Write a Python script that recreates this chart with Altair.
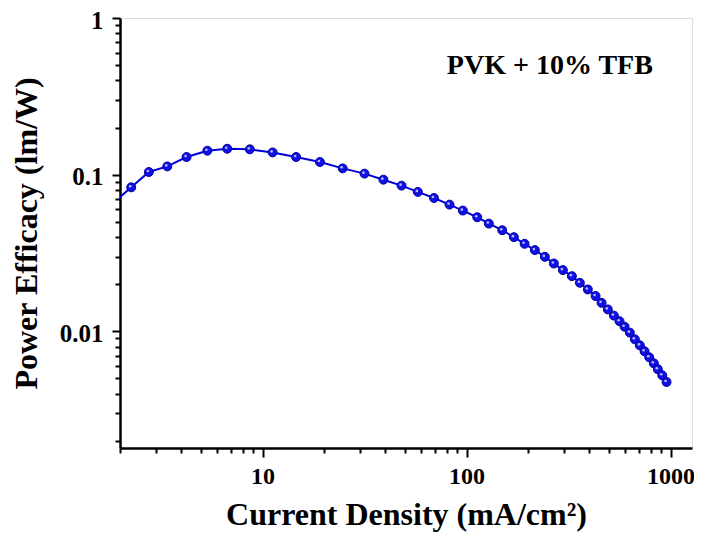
import altair as alt
import pandas as pd

# Current density (mA/cm^2) and power efficacy (lm/W)
current_density = [1.85, 2.27, 2.77, 3.41, 4.24, 5.36, 6.71, 8.66, 11.2, 14.6, 19.1,
                   24.7, 31.6, 39.1, 48.0, 57.7, 69.2, 82.5, 95.9, 112.8, 128.6,
                   149.6, 170.6, 192.5, 216.2, 242.0, 267.9, 296.6, 328.3, 359.3,
                   393.2, 429.0, 459.0, 492.7, 527.6, 562.3, 595.0, 631.8, 668.3,
                   707.1, 745.6, 786.2, 828.0, 866.3, 910.6, 955.9]
power_efficacy = [0.0657, 0.0830, 0.1040, 0.1129, 0.1296, 0.1422, 0.1464, 0.1451,
                  0.1387, 0.1296, 0.1205, 0.1097, 0.1015, 0.0929, 0.0851, 0.0776,
                  0.0710, 0.0644, 0.0590, 0.0535, 0.0487, 0.0442, 0.0399, 0.0362,
                  0.0330, 0.0299, 0.0271, 0.0246, 0.0225, 0.0204, 0.0185, 0.0168,
                  0.0152, 0.0138, 0.0126, 0.0116, 0.0107, 0.00981, 0.00889, 0.00814,
                  0.00746, 0.00683, 0.00625, 0.00573, 0.00524, 0.00475]

x_major = [10, 100, 1000]
y_major = [1, 0.1, 0.01]
x_ticks = [m * 10 ** e for e in range(0, 3) for m in range(2, 10)] + [10, 100, 1000]
y_ticks = [round(m * 10.0 ** e, 6) for e in range(-3, 0) for m in range(2, 10)] + [0.01, 0.1, 1]

annotation_text = ["PVK + 10% TFB"]
annotation_x = [256]
annotation_y = [0.44]

df = pd.DataFrame({"x": current_density, "y": power_efficacy})
df_marks = df.iloc[1:]
df_text = pd.DataFrame({"x": annotation_x, "y": annotation_y, "t": annotation_text})

FONT = "Liberation Serif"
BLUE = "#1010e6"

x_test = "indexof(%s, datum.value) >= 0" % str(x_major)
y_test = "indexof(%s, datum.value) >= 0" % str(y_major)

x_scale = alt.Scale(type="log", domain=[2, 1274], nice=False)
y_scale = alt.Scale(type="log", domain=[0.0018, 1], nice=False)

x_enc = alt.X("x:Q", scale=x_scale, axis=alt.Axis(
    title="Current Density (mA/cm²)", values=x_ticks,
    labelExpr=f"({x_test}) ? datum.value + '' : ''",
    tickSize={"condition": {"test": x_test, "value": 9}, "value": 5},
    labelFontSize=24, labelFont=FONT, labelFontWeight="bold", labelColor="black",
    labelPadding=7, labelFlush=False, labelOverlap=False,
    titleFontSize=32, titleFont=FONT, titleFontWeight="bold", titleColor="black",
    titlePadding=11, grid=False, domainColor="black", domainWidth=2.5,
    tickColor="black", tickWidth=2))
y_enc = alt.Y("y:Q", scale=y_scale, axis=alt.Axis(
    title="Power Efficacy (lm/W)", values=y_ticks,
    labelExpr=f"({y_test}) ? datum.value + '' : ''",
    tickSize={"condition": {"test": y_test, "value": 8}, "value": 5},
    labelFontSize=25, labelFont=FONT, labelFontWeight="bold", labelColor="black",
    labelPadding=9, labelOffset=2, labelFlush=False, labelOverlap=False,
    titleFontSize=32, titleFont=FONT, titleFontWeight="bold", titleColor="black",
    titlePadding=16, grid=False, domainColor="black", domainWidth=2.5,
    tickColor="black", tickWidth=2))

line = alt.Chart(df).mark_line(color="#0000d8", strokeWidth=2, clip=True).encode(x=x_enc, y=y_enc)
points = alt.Chart(df_marks).mark_circle(size=80, color=BLUE, opacity=1, stroke="#0000a0",
                                          strokeWidth=1).encode(x="x:Q", y="y:Q")
shine = alt.Chart(df_marks).mark_circle(size=7, color="#b8b8ff", opacity=1,
                                         xOffset=-1, yOffset=-1).encode(x="x:Q", y="y:Q")
label = alt.Chart(df_text).mark_text(font=FONT, fontWeight="bold", fontSize=28, color="black",
                                     align="center", baseline="alphabetic").encode(
    x="x:Q", y="y:Q", text="t:N")

chart = alt.layer(line, points, shine, label).properties(
    width=572, height=430,
    autosize=alt.AutoSizeParams(type="none"),
    padding={"left": 112, "top": 10, "right": 2, "bottom": 84},
).configure_view(stroke="black", strokeWidth=2.5).configure(background="white")

chart.save("out.html", embed_options={"renderer": "svg", "actions": False})
